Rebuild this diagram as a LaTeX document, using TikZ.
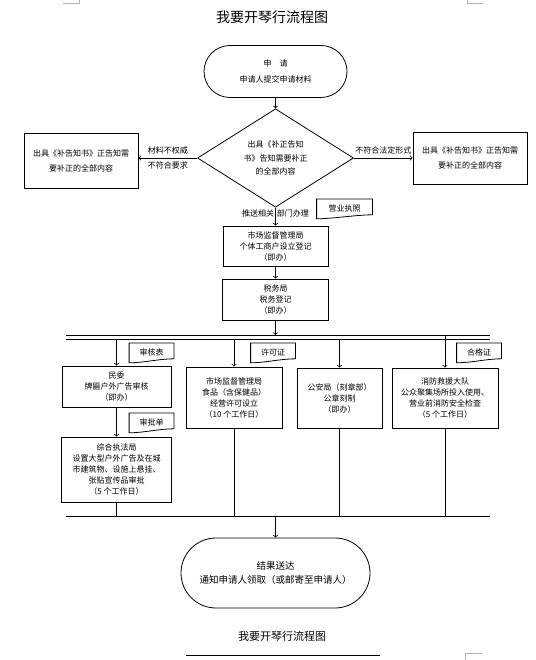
\documentclass[tikz,border=0pt]{standalone}
\usepackage{fontspec}
\setmainfont{Noto Sans CJK SC}
\usetikzlibrary{shapes.geometric}

\begin{document}
\begin{tikzpicture}[x=1pt,y=-1pt,line width=0.8pt,
	txt/.style={font=\fontsize{8}{11}\selectfont},
	box/.style={draw,txt,align=center,inner sep=0pt},
	doc/.style={txt,inner sep=0pt,minimum width=44pt,minimum height=18pt,anchor=north}]
	\useasboundingbox (0,0) rectangle (535,660);
	\draw[gray!60,line width=0.5pt] (63,3) -- (79,3) -- (79,0);
	\draw[gray!60,line width=0.5pt] (467,0) -- (467,3) -- (483,3);
	\draw[gray!60,line width=0.5pt] (482,653) -- (465,653) -- (465,660);
	\node[font=\fontsize{14}{14}\selectfont] (title) at (272,17) {我要开琴行流程图};
	\node[box,rounded corners=26pt,minimum width=143pt,minimum height=52pt] (start) at (275.5,71.5)
	{申\quad 请\\[5pt]申请人提交申请材料};
	\node[box,diamond,minimum width=156pt,minimum height=95pt] (judge) at (275.5,158)
	{出具《补正告知\\[3pt]书》告知需要补正\\[2pt]的全部内容};
	\node[box,minimum width=114pt,minimum height=55pt] (noteL) at (81,160.5)
	{出具《补告知书》正告知需\\[4pt]要补正的全部内容};
	\node[box,minimum width=114pt,minimum height=52pt] (noteR) at (470,158)
	{出具《补告知书》正告知需\\[4pt]要补正的全部内容};
	\node[box,minimum width=105pt,minimum height=40pt] (regbox) at (275.5,246)
	{市场监督管理局\\个体工商户设立登记\\（即办）};
	\node[box,minimum width=106pt,minimum height=41pt] (taxbox) at (275.5,299.5)
	{税务局\\税务登记\\（即办）};
	\node[box,minimum width=109pt,minimum height=41pt] (minwei) at (116.5,386.5)
	{民委\\牌匾户外广告审核\\（即办）};
	\node[box,minimum width=96pt,minimum height=61pt] (food) at (234,397.5)
	{市场监督管理局\\食品（含保健品）\\经营许可设立\\（10 个工作日）};
	\node[box,minimum width=85pt,minimum height=60pt] (police) at (339.5,398)
	{公安局（刻章部）\\公章刻制\\（即办）};
	\node[box,minimum width=106pt,minimum height=60pt] (fire) at (445,398)
	{消防救援大队\\公众聚集场所投入使用、\\营业前消防安全检查\\（5 个工作日）};
	\node[box,minimum width=110pt,minimum height=65pt] (zonghe) at (116.5,469.5)
	{综合执法局\\设置大型户外广告及在城\\市建筑物、设施上悬挂、\\张贴宣传品审批\\（5 个工作日）};
	\node[box,rounded corners=35pt,minimum width=189pt,minimum height=70pt,
	font=\fontsize{9.5}{14}\selectfont] (finish) at (275.5,573)
	{结果送达\\通知申请人领取（或邮寄至申请人）};
	\node[font=\fontsize{11}{11}\selectfont] (foot) at (282,636) {我要开琴行流程图};
	\draw[line width=0.6pt] (186,655) -- (380,655);
	
	\node[doc,minimum width=55pt] (license) at (344.5,199) {营业执照};
	\node[doc] (shenhe) at (151.5,343) {审核表};
	\node[doc] (xuke) at (273,343) {许可证};
	\node[doc] (hege) at (479,343) {合格证};
	\node[doc] (shenpi) at (151.5,413) {审批单};
	\foreach \d in {license,shenhe,xuke,hege,shenpi}
	\draw (\d.north west) -- (\d.north east) -- ([yshift=3pt]\d.south east)
	.. controls +(-15pt,0pt) and +(15pt,0pt) .. ([yshift=-1pt]\d.south west) -- cycle;
	
	\coordinate (busA1) at (66,335); \coordinate (busA2) at (490,335);
	\coordinate (busB1) at (66,339); \coordinate (busB2) at (490,339);
	\coordinate (busC1) at (66,516); \coordinate (busC2) at (490,516);
	\draw (busA1) -- (busA2);
	\draw (busB1) -- (busB2);
	\draw (busC1) -- (busC2);
	
	\draw[->] (start) -- (judge);
	\draw[->] (judge.west) -- node[above,txt]{材料不权威} node[below,txt]{不符合要求}
	(judge.west -| noteL.east);
	\draw[->] (judge.east) -- node[above,txt]{不符合法定形式} (judge.east -| noteR.west);
	\draw[->] (judge.south) -- node[pos=0.3,left,txt,inner sep=1pt]{推送相关}
	node[pos=0.3,right,txt,inner sep=1pt]{部门办理} (regbox);
	\draw[->] (regbox) -- (taxbox);
	\draw[->] (taxbox) -- (taxbox |- busA1);
	\draw[->] (minwei |- busB1) -- (minwei);
	\draw[->] (food |- busB1) -- (food);
	\draw[->] (police |- busB1) -- (police);
	\draw[->] (fire |- busA1) -- (fire);
	\draw[->] (minwei) -- (zonghe);
	\draw (zonghe) -- (zonghe |- busC1);
	\draw (food) -- (food |- busC1);
	\draw (police) -- (police |- busC1);
	\draw (fire) -- (fire |- busC1);
	\draw[->] (finish |- busC1) -- (finish);
\end{tikzpicture}
\end{document}
